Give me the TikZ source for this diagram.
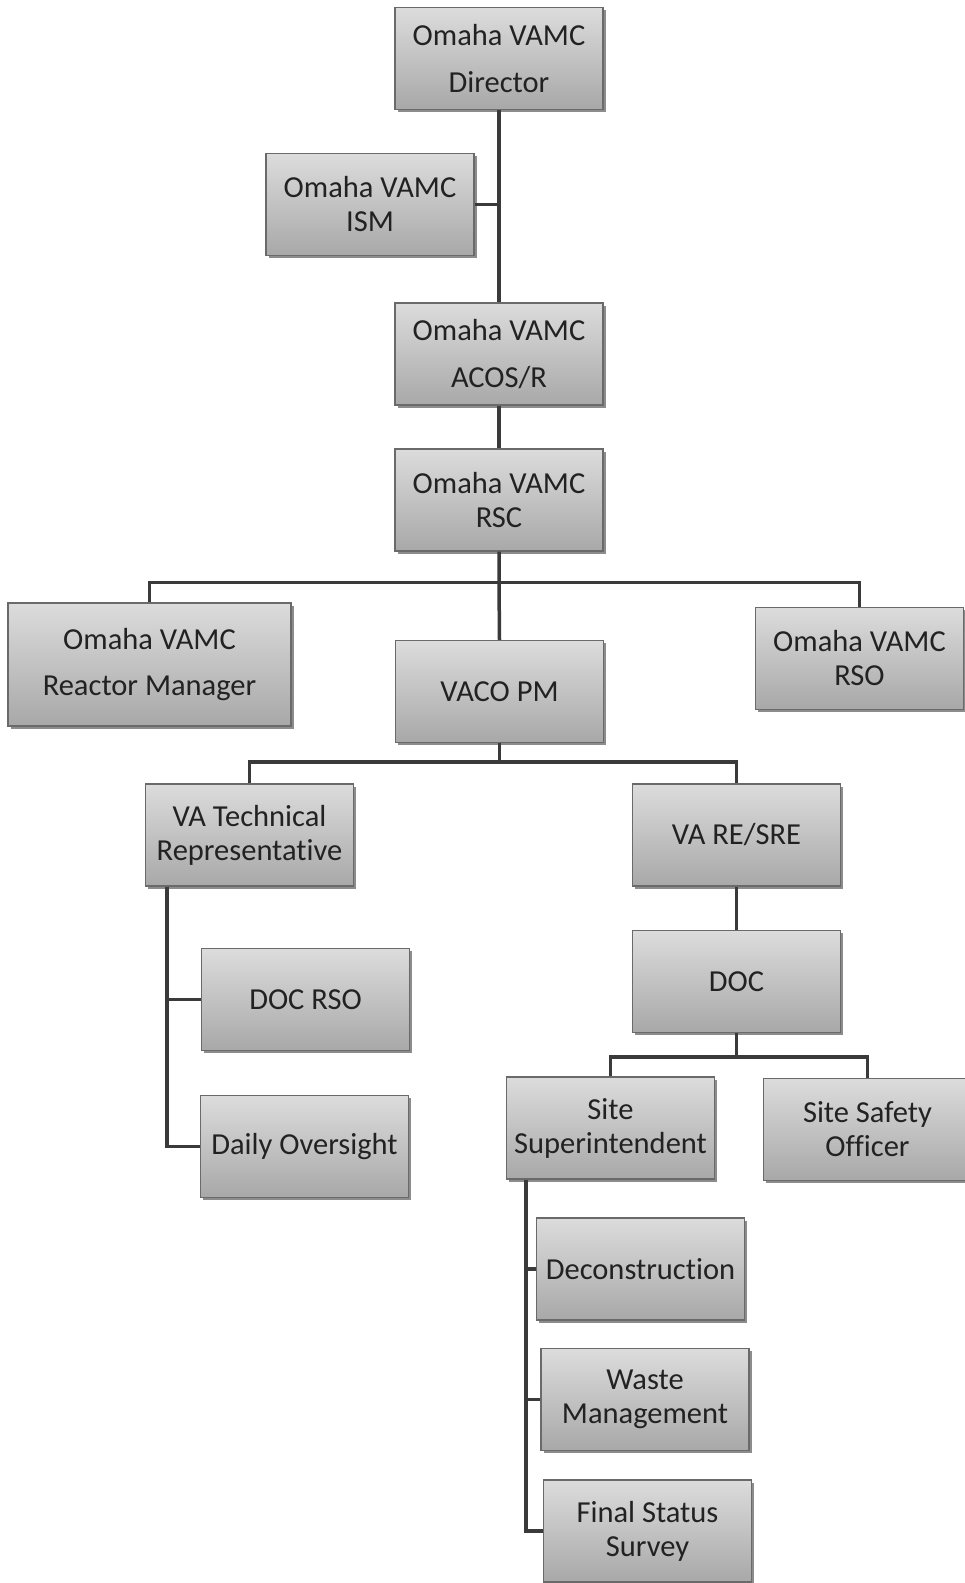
\documentclass[tikz,border=0pt]{standalone}
\usepackage{fontspec}
\setmainfont{Carlito}[Ligatures=NoCommon]
\usetikzlibrary{shadows,calc}
\definecolor{boxtop}{HTML}{DCDCDC}
\definecolor{boxbot}{HTML}{A8A8A8}
\definecolor{boxline}{HTML}{6A6A6A}
\definecolor{conn}{HTML}{3A3A3A}
\definecolor{txt}{HTML}{222222}
\tikzset{
  orgbox/.style={draw=boxline, line width=1.2pt, top color=boxtop, bottom color=boxbot,
    minimum width=208pt, minimum height=102pt, inner sep=2pt, align=center, text=txt,
    font=\fontsize{30.5}{46.5}\selectfont,
    drop shadow={shadow xshift=2.5pt, shadow yshift=-2.5pt, opacity=0.45, fill=black}},
  tight/.style={font=\fontsize{30.5}{34}\selectfont},
  link/.style={draw=conn, line width=3.5pt}
}
\begin{document}
\begin{tikzpicture}[x=1pt,y=-1pt]
\useasboundingbox (0,0) rectangle (965,1583);
\fill[white] (0,0) rectangle (965,1583);
\clip (0,0) rectangle (965,1583);
% boxes
\node[orgbox] (dir) at (499,58.5) {Omaha VAMC\\Director};
\node[orgbox, tight] (ism) at (370,204.5) {Omaha VAMC\\ISM};
\node[orgbox] (acos) at (499,354) {Omaha VAMC\\ACOS/R};
\node[orgbox, tight] (rsc) at (499,500) {Omaha VAMC\\RSC};
\node[orgbox, minimum width=283pt, minimum height=123pt] (rm) at (149.5,664.5) {Omaha VAMC\\Reactor Manager};
\node[orgbox] (vaco) at (499.5,691.5) {VACO PM};
\node[orgbox, tight] (rso) at (859.5,658.5) {Omaha VAMC\\RSO};
\node[orgbox, tight] (tr) at (249.5,835) {VA Technical\\Representative};
\node[orgbox] (re) at (736.5,835) {VA RE/SRE};
\node[orgbox] (docrso) at (305.5,999.5) {DOC RSO};
\node[orgbox] (doc) at (736.5,981.5) {DOC};
\node[orgbox] (daily) at (304.5,1146.5) {Daily Oversight};
\node[orgbox, tight] (ss) at (610.5,1128) {Site\\Superintendent};
\node[orgbox, tight] (sso) at (867.5,1129.5) {Site Safety\\Officer};
\node[orgbox] (dec) at (640.5,1269) {Deconstruction};
\node[orgbox, tight] (waste) at (645,1399.5) {Waste\\Management};
\node[orgbox, tight] (fss) at (647.5,1531) {Final Status\\Survey};
% connectors
\draw[link] (dir.south) -- (acos.north);
\draw[link] (ism.east) -- (ism.east -| dir.south);
\draw[link] (acos.south) -- (rsc.north);
\coordinate (b1) at ($(rsc.south)+(0,31)$);
\draw[link] (rsc.south) -- (b1) -- (vaco.north);
\draw[link] (rm.north) |- (b1) -| (rso.north);
\coordinate (b2) at ($(vaco.south)+(0,19)$);
\draw[link] (vaco.south) -- (b2);
\draw[link] (tr.north) |- (b2) -| (re.north);
\coordinate (t1) at ($(tr.south west)+(22,0)$);
\draw[link] (t1) |- (docrso.west);
\draw[link] (t1) |- (daily.west);
\draw[link] (re.south) -- (doc.north);
\coordinate (b3) at ($(doc.south)+(0,24)$);
\draw[link] (doc.south) -- (b3);
\draw[link] (ss.north) |- (b3) -| (sso.north);
\coordinate (s1) at ($(ss.south west)+(20,0)$);
\draw[link] (s1) |- (dec.west);
\draw[link] (s1) |- (waste.west);
\draw[link] (s1) |- (fss.west);
\end{tikzpicture}
\end{document}
